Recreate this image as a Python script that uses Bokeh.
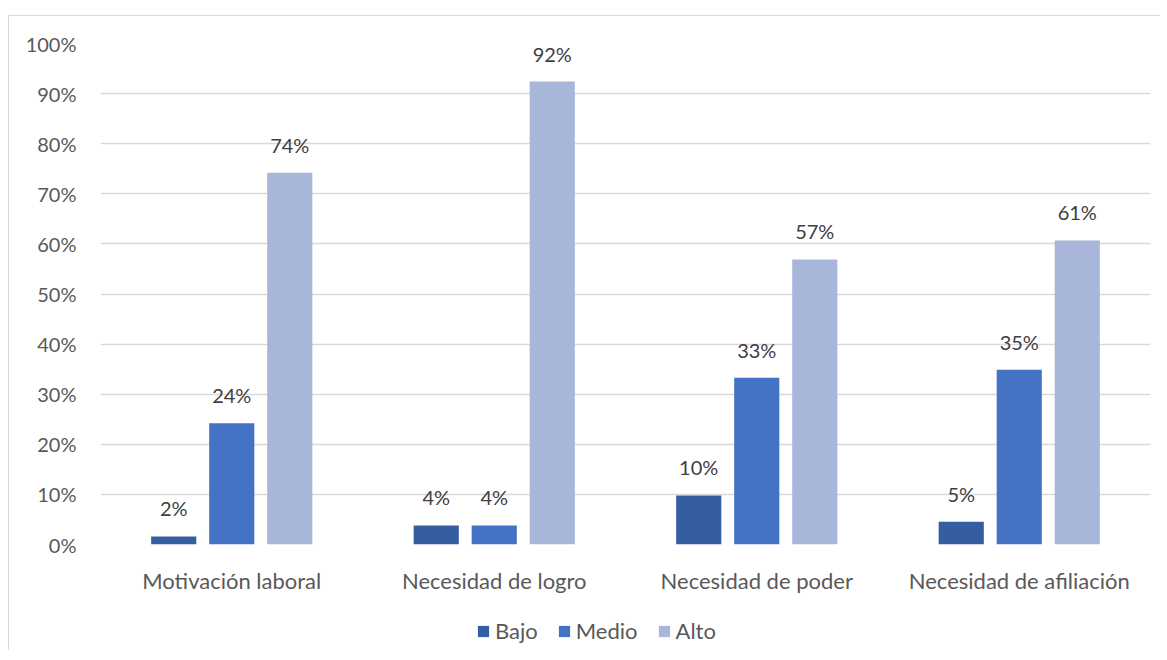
from bokeh.plotting import figure
from bokeh.layouts import column
from bokeh.models import FactorRange, ColumnDataSource, Legend, LegendItem, FixedTicker, PrintfTickFormatter
from bokeh.transform import dodge
from bokeh.core.properties import value
from bokeh.embed import file_html
from bokeh.resources import INLINE

categories = ["Motivación laboral", "Necesidad de logro", "Necesidad de poder", "Necesidad de afiliación"]
series = ["Bajo", "Medio", "Alto"]
bajo = [1.6, 3.8, 9.8, 4.55]
medio = [24.2, 3.8, 33.3, 34.9]
alto = [74.2, 92.4, 56.9, 60.7]
colors = ["#355EA2", "#4472C4", "#A8B6DA"]
y_ticks = [0, 10, 20, 30, 40, 50, 60, 70, 80, 90, 100]

FONT = "Lato"

p = figure(x_range=FactorRange(factors=categories, range_padding=0), y_range=(0, 100),
           width=1151, height=590, output_backend="svg", toolbar_location=None,
           min_border_left=91, min_border_right=10, min_border_top=27, min_border_bottom=62)
p.outline_line_color = None
p.background_fill_color = "white"

data = dict(cat=categories, bajo=bajo, medio=medio, alto=alto,
            lb=[f"{round(v)}%" for v in bajo],
            lm=[f"{round(v)}%" for v in medio],
            la=[f"{round(v)}%" for v in alto])
src = ColumnDataSource(data)

pitch = 0.221
bw = 0.172
for i, (col, lab) in enumerate(zip(["bajo", "medio", "alto"], ["lb", "lm", "la"])):
    off = (i - 1) * pitch
    p.vbar(x=dodge("cat", off, range=p.x_range), top=col, width=bw, source=src,
           fill_color=colors[i], line_color=None)
    p.text(x=dodge("cat", off, range=p.x_range), y=col, text=lab, source=src,
           text_align="center", text_baseline="alphabetic", y_offset=-28,
           text_font=value(FONT), text_font_size="20px", text_color="#404040")

p.yaxis.ticker = FixedTicker(ticks=y_ticks)
p.yaxis.formatter = PrintfTickFormatter(format="%d%%")
for ax in (p.xaxis, p.yaxis):
    ax.axis_line_color = None
    ax.major_tick_line_color = None
    ax.minor_tick_line_color = None
    ax.major_label_text_font = FONT
    ax.major_label_text_color = "#595959"
p.yaxis.major_label_text_font_size = "20px"
p.xaxis.major_label_text_font_size = "22px"
p.yaxis.major_label_standoff = 18
p.xaxis.major_label_standoff = 16

p.xgrid.grid_line_color = None
p.ygrid.grid_line_color = "#D9D9D9"
p.ygrid.grid_line_width = 1.5

# legend strip
lg = figure(width=1151, height=44, x_range=(0, 1), y_range=(0, 1), output_backend="svg",
            toolbar_location=None, min_border=0)
lg.axis.visible = False
lg.grid.visible = False
lg.outline_line_color = None
items = []
for i, name in enumerate(series):
    r = lg.vbar(x=[0.5], top=[0], bottom=[0], width=0.0, fill_color=colors[i], line_color=None)
    items.append(LegendItem(label=name, renderers=[r]))
legend = Legend(items=items, orientation="horizontal", location=(376, 6),
                padding=0, margin=0, border_line_color=None, background_fill_alpha=0,
                glyph_width=14, glyph_height=14, label_standoff=5, spacing=19,
                label_text_font=FONT, label_text_font_size="22px", label_text_color="#595959")
lg.add_layout(legend, "center")

layout = column(p, lg, spacing=0)
layout.styles = {"margin-left": "8px", "margin-top": "15px",
                 "border-left": "1.5px solid #D9D9D9", "border-top": "1.5px solid #D9D9D9"}

open("out.html", "w").write(file_html(layout, INLINE))
